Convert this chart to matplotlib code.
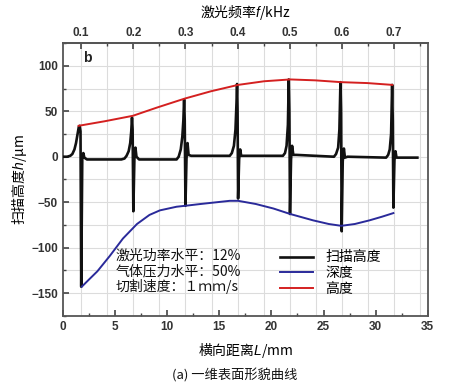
import matplotlib
matplotlib.use("Agg")
import matplotlib.pyplot as plt
import numpy as np
from matplotlib.ticker import MultipleLocator

plt.rcParams['font.family'] = ['Noto Sans CJK SC', 'DejaVu Sans']
plt.rcParams['mathtext.fontset'] = 'custom'
plt.rcParams['mathtext.it'] = 'Liberation Sans:italic'

# scan height trace (black)
scan_x = [0, 0.4, 0.7, 0.9, 1.1, 1.25, 1.4, 1.52, 1.6, 1.68, 1.75, 1.85, 1.95, 2.05, 2.3,
          5.6, 5.9, 6.1, 6.3, 6.45, 6.55, 6.62, 6.68, 6.75, 6.85, 6.95, 7.05, 7.3,
          10.9, 11.1, 11.3, 11.45, 11.55, 11.62, 11.68, 11.75, 11.85, 11.95, 12.05, 12.3,
          16.0, 16.2, 16.4, 16.55, 16.65, 16.7, 16.75, 16.8, 16.9, 17.0, 17.1, 17.4,
          21.1, 21.3, 21.45, 21.58, 21.66, 21.72, 21.78, 21.88, 21.98, 22.1, 22.4,
          26.0, 26.2, 26.4, 26.52, 26.62, 26.68, 26.74, 26.84, 26.95, 27.05, 27.3,
          31.0, 31.2, 31.35, 31.48, 31.58, 31.64, 31.7, 31.8, 31.9, 32.0, 34.0]
scan_y = [0, 0, 1, 3, 8, 15, 25, 33, 34, 28, -143, -2, 4, -1, -3,
          -3, -2, 1, 6, 15, 28, 43, 30, -60, -3, 10, 0, -3,
          -3, 0, 8, 22, 40, 63, 40, -54, -2, 15, 2, 1,
          1, 4, 12, 30, 60, 80, 50, -46, -3, 8, 1, 1,
          1, 4, 12, 35, 85, 50, -63, -3, 12, 2, 2,
          0, 3, 10, 30, 82, 50, -82, -5, 9, -1, 0,
          -1, 2, 8, 25, 79, 40, -56, -4, 6, -1, -1]

# depth (blue)
depth_x = [1.8, 2.5, 3.3, 4.5, 5.75, 7.1, 8.3, 9.3, 10.9, 11.7, 13.2, 14.8, 16.0, 16.8,
           18.5, 20.2, 21.8, 24.0, 25.5, 26.7, 28.0, 29.4, 30.6, 31.7]
depth_y = [-143, -135, -126, -109, -90, -74, -64, -59, -55, -54, -52, -50, -48.5, -48.5,
           -52, -57, -63, -70, -74, -76, -74, -70, -66, -62]

# height (red)
height_x = [1.5, 4.0, 6.7, 9.0, 11.7, 14.2, 16.8, 19.3, 21.8, 24.2, 26.7, 29.2, 31.6]
height_y = [34, 39, 45, 54, 64, 72, 79, 83, 85, 84, 82, 81, 79]

notes = ['激光功率水平：12%', '气体压力水平：50%', '切割速度：１ｍｍ/s']

fig = plt.figure(figsize=(4.75, 3.88), dpi=100)
ax = fig.add_axes([0.1326, 0.186, 0.768, 0.703])

ax.set_xlim(0, 35)
ax.set_ylim(-175, 125)

# grid: horizontal every 25, vertical at the frequency ticks
for yv in np.arange(-175, 126, 25):
    ax.axhline(yv, color='#dcdcdc', lw=0.8, zorder=0)
for fv in np.arange(0.1, 0.76, 0.05):
    ax.axvline(1.75 + (fv - 0.1) * 50, color='#dcdcdc', lw=0.8, zorder=0)

l1, = ax.plot(scan_x, scan_y, color='#111111', lw=1.9, label='扫描高度', zorder=3)
l2, = ax.plot(depth_x, depth_y, color='#2a2a9a', lw=1.4, label='深度', zorder=4)
l3, = ax.plot(height_x, height_y, color='#d42020', lw=1.4, label='高度', zorder=4)

tick_fp = matplotlib.font_manager.FontProperties(family='Liberation Sans', size=8.5, weight='bold')
ax.xaxis.set_major_locator(MultipleLocator(5))
ax.xaxis.set_minor_locator(MultipleLocator(2.5))
ax.yaxis.set_major_locator(MultipleLocator(50))
ax.yaxis.set_minor_locator(MultipleLocator(25))
ax.tick_params(which='both', direction='in', color='#444444', top=False, right=False)
ax.tick_params(which='major', length=4, width=1.2)
ax.tick_params(which='minor', length=2.5, width=1.0)
ax.set_yticks([-150, -100, -50, 0, 50, 100])
for lab in ax.get_xticklabels() + ax.get_yticklabels():
    lab.set_fontproperties(tick_fp)
    lab.set_color('#333333')

for s in ax.spines.values():
    s.set_color('#555555')
    s.set_linewidth(1.3)

sec = ax.secondary_xaxis('top', functions=(lambda L: 0.1 + (L - 1.75) / 50,
                                            lambda f: 1.75 + (f - 0.1) * 50))
sec.xaxis.set_major_locator(MultipleLocator(0.1))
sec.xaxis.set_minor_locator(MultipleLocator(0.05))
sec.tick_params(which='both', direction='in', color='#444444')
sec.tick_params(which='major', length=4, width=1.2, pad=3)
sec.tick_params(which='minor', length=2.5, width=1.0)
sec.set_xticks([0.1, 0.2, 0.3, 0.4, 0.5, 0.6, 0.7])
sec.set_xticklabels(['0.1', '0.2', '0.3', '0.4', '0.5', '0.6', '0.7'],
                    fontproperties=tick_fp, color='#333333')
sec.spines['top'].set_color('#555555')
sec.spines['top'].set_linewidth(1.3)
sec.set_xlabel('激光频率$f$/kHz', fontsize=10, labelpad=7)

ax.set_xlabel('横向距离$L$/mm', fontsize=10, labelpad=6)
ax.set_ylabel('扫描高度$h$/μm', fontsize=10, labelpad=2)

ax.text(0.055, 0.93, 'b', transform=ax.transAxes, fontsize=10, weight='bold',
        family='Liberation Sans', color='#222222')

for i, t in enumerate(notes):
    ax.text(0.143, 0.22 - i * 0.057, t, transform=ax.transAxes, fontsize=10,
            color='#111111', va='center')

ax.legend(handles=[l1, l2, l3], loc='lower left', bbox_to_anchor=(0.575, 0.048),
          frameon=False, fontsize=10, handlelength=2.4, handletextpad=0.9,
          labelspacing=0.12, borderpad=0)

fig.text(0.495, 0.022, '(a) 一维表面形貌曲线', ha='center', fontsize=9.5, color='#111111')

fig.savefig('out.png', dpi=100)
